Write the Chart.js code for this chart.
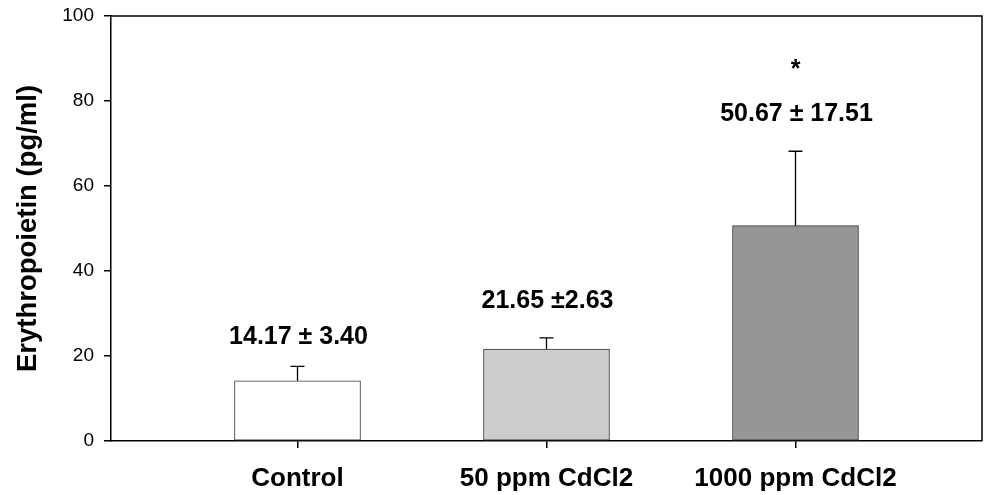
<!DOCTYPE html>
<html>
<head>
<meta charset="utf-8">
<script src="https://cdn.jsdelivr.net/npm/chart.js@4/dist/chart.umd.min.js"></script>
<style>
  html, body { margin: 0; padding: 0; background: #fff; }
  #wrap { width: 984px; height: 495px; }
</style>
</head>
<body>
<div id="wrap"><canvas id="chart"></canvas></div>
<script>
const categories = ['Control', '50 ppm CdCl2', '1000 ppm CdCl2']
const means = [14.17, 21.65, 50.67]
const sds = [3.40, 2.63, 17.51]
const valueLabels = ['14.17 ± 3.40', '21.65 ±2.63', '50.67 ± 17.51']
const marks = ['', '', '*']
const yTicks = [0, 20, 40, 60, 80, 100]

const fillColors = ['#ffffff', '#cccccc', '#969696']
const fontFamily = '"Liberation Sans", Arial, sans-serif'

// error bars, value labels and the box around the plot
const extras = {
  id: 'extras',
  afterDatasetsDraw(chart, args, opts) {
    const { ctx, chartArea } = chart
    const y = chart.scales.y
    const bars = chart.getDatasetMeta(0).data

    ctx.save()
    ctx.strokeStyle = '#000'
    ctx.lineWidth = 1.3
    bars.forEach((bar, i) => {
      const top = y.getPixelForValue(means[i] + sds[i])
      ctx.beginPath()
      ctx.moveTo(bar.x, bar.y)
      ctx.lineTo(bar.x, top)
      ctx.moveTo(bar.x - 7, top)
      ctx.lineTo(bar.x + 7, top)
      ctx.stroke()

      ctx.fillStyle = '#000'
      ctx.textAlign = 'center'
      ctx.textBaseline = 'middle'
      ctx.font = 'bold 25px ' + fontFamily
      const labelY = top - opts.gaps[i]
      ctx.fillText(valueLabels[i], bar.x + 1, labelY)
      if (marks[i]) ctx.fillText(marks[i], bar.x, labelY - 44)
    })

    ctx.lineWidth = 1.5
    ctx.beginPath()
    ctx.moveTo(chartArea.left, chartArea.top)
    ctx.lineTo(chartArea.right, chartArea.top)
    ctx.lineTo(chartArea.right, chartArea.bottom)
    ctx.stroke()
    ctx.restore()
  }
}

new Chart(document.getElementById('chart'), {
  type: 'bar',
  data: {
    datasets: [{
      data: means.map((v, i) => ({ x: i, y: v })),
      backgroundColor: fillColors,
      borderColor: '#3a3a3a',
      borderWidth: 1,
      borderSkipped: false,
      barThickness: 126
    }]
  },
  options: {
    responsive: true,
    maintainAspectRatio: false,
    animation: false,
    layout: { padding: { top: 16, right: 2, left: 0, bottom: 0 } },
    plugins: {
      legend: { display: false },
      tooltip: { enabled: false },
      extras: { gaps: [29, 37, 37] }
    },
    scales: {
      x: {
        type: 'linear',
        offset: false,
        min: -0.749,
        max: 2.749,
        afterBuildTicks: s => { s.ticks = categories.map((c, i) => ({ value: i })) },
        afterFit: s => { s.height = 54; s.paddingLeft = 0; s.paddingRight = 0 },
        grid: { offset: false, drawOnChartArea: false, tickLength: 7, color: '#000', lineWidth: 1.5 },
        border: { color: '#000', width: 1.5 },
        ticks: {
          callback: v => categories[v],
          color: '#000',
          padding: 15,
          maxRotation: 0,
          autoSkip: false,
          font: { family: fontFamily, size: 26, weight: 'bold' }
        }
      },
      y: {
        min: 0,
        max: 100,
        afterBuildTicks: s => { s.ticks = yTicks.map(v => ({ value: v })) },
        afterFit: s => { s.width = 111; s.paddingTop = 0; s.paddingBottom = 0 },
        grid: { drawOnChartArea: false, tickLength: 7, color: '#000', lineWidth: 1.5 },
        border: { color: '#000', width: 1.5 },
        ticks: {
          color: '#000',
          padding: 10,
          font: { family: fontFamily, size: 19 }
        },
        title: {
          display: true,
          text: 'Erythropoietin (pg/ml)',
          color: '#000',
          padding: { top: 12, bottom: 0 },
          font: { family: fontFamily, size: 27.5, weight: 'bold' }
        }
      }
    }
  },
  plugins: [extras]
})
</script>
</body>
</html>
